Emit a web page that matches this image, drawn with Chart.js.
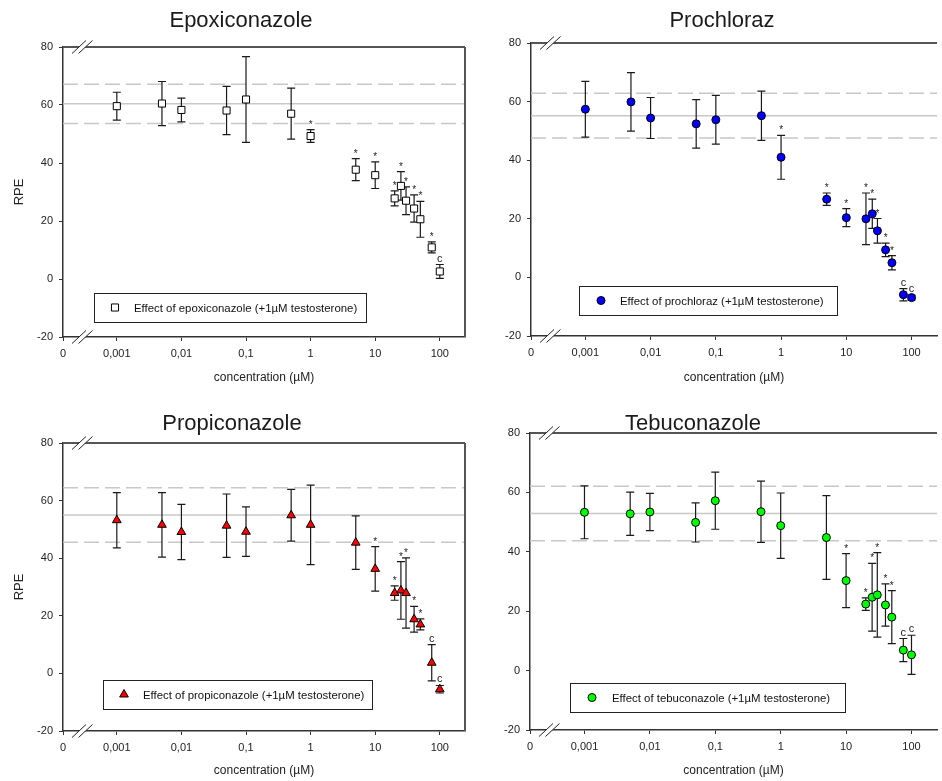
<!DOCTYPE html>
<html>
<head>
<meta charset="utf-8">
<script src="https://cdn.jsdelivr.net/npm/chart.js@4.4.0/dist/chart.umd.min.js"></script>
<style>
  html, body { margin: 0; padding: 0; background: #fff; overflow: hidden; }
  #wrap { position: relative; width: 942px; height: 781px; }
  #wrap canvas { position: absolute; }
</style>
</head>
<body>
<div id="wrap">
  <canvas id="c1" width="471" height="390" style="left:0;top:0"></canvas>
  <canvas id="c2" width="471" height="390" style="left:471px;top:0"></canvas>
  <canvas id="c3" width="471" height="391" style="left:0;top:390px"></canvas>
  <canvas id="c4" width="471" height="391" style="left:471px;top:390px"></canvas>
</div>
<script>
// concentrations (µM), same for every compound
const concentrations = [0.001, 0.005, 0.01, 0.05, 0.1, 0.5, 1, 5, 10, 20, 25, 30, 40, 50, 75, 100];
const xTickValues = [0.001, 0.01, 0.1, 1, 10, 100];
const xTickLabels = ['0,001', '0,01', '0,1', '1', '10', '100'];
const xMinValue = Math.pow(10, -3.833);   // shown as "0" (axis break)
const xMaxValue = Math.pow(10, 2.39);
const yMin = -20, yMax = 80, yStep = 20;

const compoundNames = ['Epoxiconazole', 'Prochloraz', 'Propiconazole', 'Tebuconazole'];
const legendLabels = [
  'Effect of epoxiconazole (+1µM testosterone)',
  'Effect of prochloraz (+1µM testosterone)',
  'Effect of propiconazole (+1µM testosterone)',
  'Effect of tebuconazole (+1µM testosterone)'
];

const epoxiconazoleMean = [59.6, 60.5, 58.3, 58.1, 61.9, 57.0, 49.3, 37.7, 35.8, 27.8, 32.1, 27.0, 24.3, 20.6, 10.9, 2.6];
const epoxiconazoleSD   = [4.8, 7.6, 4.1, 8.3, 14.8, 8.8, 2.2, 3.8, 4.6, 2.6, 4.9, 4.8, 4.7, 6.2, 1.9, 2.4];
const epoxiconazoleSig  = ['', '', '', '', '', '', '*', '*', '*', '*', '*', '*', '*', '*', '*', 'c'];

const prochlorazMean = [57.4, 59.9, 54.4, 52.4, 53.8, 55.2, 41.0, 26.7, 20.4, 20.0, 21.7, 15.9, 9.4, 5.0, -5.9, -6.9];
const prochlorazSD   = [9.5, 10.0, 7.0, 8.3, 8.3, 8.4, 7.5, 2.1, 3.1, 8.8, 5.0, 4.2, 2.3, 2.4, 2.1, 0.8];
const prochlorazSig  = ['', '', '', '', '', '', '*', '*', '*', '*', '*', '*', '*', '*', 'c', 'c'];

const propiconazoleMean = [53.2, 51.6, 49.1, 51.3, 49.2, 54.9, 51.6, 45.4, 36.3, 27.9, 28.8, 27.9, 18.8, 17.0, 3.7, -5.5];
const propiconazoleSD   = [9.6, 11.2, 9.6, 11.0, 8.6, 9.0, 13.8, 9.3, 7.7, 2.5, 10.0, 12.2, 4.5, 1.9, 6.3, 1.3];
const propiconazoleSig  = ['', '', '', '', '', '', '', '', '*', '*', '*', '*', '*', '*', 'c', 'c'];

const tebuconazoleMean = [53.3, 52.8, 53.4, 49.9, 57.2, 53.5, 48.8, 44.8, 30.3, 22.4, 24.7, 25.5, 22.1, 18.0, 6.9, 5.3];
const tebuconazoleSD   = [8.9, 7.3, 6.3, 6.6, 9.6, 10.3, 11.0, 14.1, 9.1, 2.1, 11.4, 14.2, 7.1, 8.9, 3.9, 6.6];
const tebuconazoleSig  = ['', '', '', '', '', '', '', '', '*', '*', '*', '*', '*', '*', 'c', 'c'];

// control (testosterone alone): mean and SD band
const controlMean = [60.4, 55.2, 55.0, 52.9];
const controlSD   = [6.75, 7.65, 9.5, 9.2];

const means = [epoxiconazoleMean, prochlorazMean, propiconazoleMean, tebuconazoleMean];
const sds = [epoxiconazoleSD, prochlorazSD, propiconazoleSD, tebuconazoleSD];
const sigs = [epoxiconazoleSig, prochlorazSig, propiconazoleSig, tebuconazoleSig];

const markers = [
  { style: 'rect', radius: 5, fill: '#ffffff' },
  { style: 'circle', radius: 4, fill: '#0000ff' },
  { style: 'triangle', radius: 5, fill: '#ff0000' },
  { style: 'circle', radius: 4, fill: '#00ff00' }
];

// panel geometry (canvas-local pixels)
const panels = [
  { id: 'c1', w: 471, h: 390, area: [63, 47, 466, 337], title: [241, 27], legend: [94, 293, 366, 322, 115, 134], rpe: true, right: true, xtitlePad: 4.8 },
  { id: 'c2', w: 471, h: 390, area: [60, 43, 471, 336], title: [251, 27], legend: [108, 286, 366, 315, 130, 149], rpe: false, right: false, xtitlePad: 4.8 },
  { id: 'c3', w: 471, h: 391, area: [63, 53, 465, 341], title: [232, 40], legend: [103, 290, 372, 319, 124, 143], rpe: true, right: true, xtitlePad: 2.8 },
  { id: 'c4', w: 471, h: 391, area: [59, 43, 471, 340], title: [222, 40], legend: [99, 293, 374, 322, 121, 141], rpe: false, right: false, xtitlePad: 2.8 }
];

Chart.defaults.font.family = "'Liberation Sans', Arial, sans-serif";
Chart.defaults.color = '#222';

function drawMarker(ctx, m, x, y) {
  ctx.save();
  ctx.fillStyle = m.fill;
  ctx.strokeStyle = '#000';
  ctx.lineWidth = 1;
  ctx.beginPath();
  if (m.style === 'rect') {
    const s = m.radius * Math.SQRT1_2;
    ctx.rect(x - s, y - s, 2 * s, 2 * s);
  } else if (m.style === 'triangle') {
    const r = m.radius;
    ctx.moveTo(x, y - r);
    ctx.lineTo(x + r * Math.sin(Math.PI * 2 / 3), y - r * Math.cos(Math.PI * 2 / 3));
    ctx.lineTo(x + r * Math.sin(Math.PI * 4 / 3), y - r * Math.cos(Math.PI * 4 / 3));
    ctx.closePath();
  } else {
    ctx.arc(x, y, m.radius, 0, Math.PI * 2);
  }
  ctx.fill();
  ctx.stroke();
  ctx.restore();
}

const errorBars = {
  id: 'errorBars',
  beforeDatasetDraw(chart, args, opts) {
    if (args.index !== 0) return;
    const { ctx, scales: { x, y } } = chart;
    const k = opts.k;
    ctx.save();
    ctx.strokeStyle = '#1a1a1a';
    ctx.lineWidth = 1.2;
    ctx.fillStyle = '#222';
    ctx.textAlign = 'center';
    concentrations.forEach((c, i) => {
      const px = x.getPixelForValue(c);
      const top = y.getPixelForValue(means[k][i] + sds[k][i]);
      const bot = y.getPixelForValue(means[k][i] - sds[k][i]);
      ctx.beginPath();
      ctx.moveTo(px, top); ctx.lineTo(px, bot);
      ctx.moveTo(px - 4, top); ctx.lineTo(px + 4, top);
      ctx.moveTo(px - 4, bot); ctx.lineTo(px + 4, bot);
      ctx.stroke();
      const s = sigs[k][i];
      if (s === '*') {
        ctx.font = "10px 'Liberation Sans', Arial, sans-serif";
        ctx.fillText('*', px, top - 2);
      } else if (s === 'c') {
        ctx.font = "11px 'Liberation Sans', Arial, sans-serif";
        ctx.fillText('c', px, top - 3);
      }
    });
    ctx.restore();
  }
};

const decorations = {
  id: 'decorations',
  afterDraw(chart, args, opts) {
    const { ctx, chartArea: a } = chart;
    const p = opts.panel, k = opts.k;
    ctx.save();
    // frame
    ctx.strokeStyle = '#555';
    ctx.lineWidth = 2;
    ctx.beginPath();
    ctx.moveTo(a.left, a.top); ctx.lineTo(a.right, a.top);
    if (p.right) { ctx.moveTo(a.right, a.top); ctx.lineTo(a.right, a.bottom); }
    ctx.stroke();
    // axis breaks
    [a.top, a.bottom].forEach(yy => {
      const x0 = a.left + 9;
      ctx.fillStyle = '#fff';
      ctx.beginPath();
      ctx.moveTo(x0, yy + 6.5); ctx.lineTo(x0 + 14, yy - 6.5);
      ctx.lineTo(x0 + 20.5, yy - 6.5); ctx.lineTo(x0 + 6.5, yy + 6.5);
      ctx.closePath();
      ctx.fill();
      ctx.strokeStyle = '#222';
      ctx.lineWidth = 1;
      ctx.beginPath();
      ctx.moveTo(x0, yy + 6.5); ctx.lineTo(x0 + 14, yy - 6.5);
      ctx.moveTo(x0 + 6.5, yy + 6.5); ctx.lineTo(x0 + 20.5, yy - 6.5);
      ctx.stroke();
    });
    // title
    ctx.fillStyle = '#1a1a1a';
    ctx.font = "22px 'Liberation Sans', Arial, sans-serif";
    ctx.textAlign = 'center';
    ctx.textBaseline = 'alphabetic';
    ctx.fillText(compoundNames[k], p.title[0], p.title[1]);
    // legend box
    const L = p.legend;
    ctx.fillStyle = '#fff';
    ctx.fillRect(L[0], L[1], L[2] - L[0], L[3] - L[1]);
    ctx.strokeStyle = '#222';
    ctx.lineWidth = 1;
    ctx.strokeRect(L[0] + 0.5, L[1] + 0.5, L[2] - L[0], L[3] - L[1]);
    const cy = (L[1] + L[3]) / 2;
    drawMarker(ctx, markers[k], L[4], cy);
    ctx.fillStyle = '#111';
    ctx.font = "11.4px 'Liberation Sans', Arial, sans-serif";
    ctx.textAlign = 'left';
    ctx.textBaseline = 'middle';
    ctx.fillText(legendLabels[k], L[5], cy + 1);
    ctx.restore();
  }
};

panels.forEach((p, k) => {
  const m = markers[k];
  const band = (v, dashed) => ({
    data: [{ x: xMinValue, y: v }, { x: xMaxValue, y: v }],
    showLine: true,
    borderColor: '#c8c8c8',
    borderWidth: 1.5,
    borderDash: dashed ? [15, 6] : [],
    pointRadius: 0
  });
  new Chart(document.getElementById(p.id), {
    type: 'scatter',
    data: {
      datasets: [
        {
          data: concentrations.map((c, i) => ({ x: c, y: means[k][i] })),
          pointStyle: m.style,
          pointRadius: m.radius,
          backgroundColor: m.fill,
          borderColor: '#000',
          borderWidth: 1
        },
        band(controlMean[k], false),
        band(controlMean[k] + controlSD[k], true),
        band(controlMean[k] - controlSD[k], true)
      ]
    },
    options: {
      responsive: false,
      animation: false,
      events: [],
      layout: { padding: { left: 0, top: p.area[1], right: p.w - p.area[2], bottom: 0 } },
      plugins: {
        legend: { display: false },
        tooltip: { enabled: false },
        errorBars: { k },
        decorations: { panel: p, k }
      },
      scales: {
        x: {
          type: 'logarithmic',
          min: xMinValue,
          max: xMaxValue,
          afterBuildTicks: s => { s.ticks = [xMinValue].concat(xTickValues).map(v => ({ value: v })); },
          afterFit: s => { s.height = p.h - p.area[3]; },
          ticks: {
            autoSkip: false, maxRotation: 0, minRotation: 0, padding: 6,
            font: { size: 11 }, color: '#222',
            callback: (v, i) => (i === 0 ? '0' : xTickLabels[i - 1])
          },
          grid: { drawOnChartArea: false, drawTicks: true, tickLength: 4, color: '#333' },
          border: { color: '#333', width: 1.5 },
          title: { display: true, text: 'concentration (µM)', font: { size: 12 }, color: '#222', padding: { top: 0, bottom: p.xtitlePad } }
        },
        y: {
          min: yMin,
          max: yMax,
          afterFit: s => { s.width = p.area[0]; },
          ticks: { stepSize: yStep, padding: 6, font: { size: 11 }, color: '#222' },
          grid: { drawOnChartArea: false, drawTicks: true, tickLength: 4, color: '#333' },
          border: { color: '#333', width: 1.5 },
          title: { display: p.rpe, text: 'RPE', font: { size: 13 }, color: '#222', padding: { top: 12, bottom: 0 } }
        }
      }
    },
    plugins: [errorBars, decorations]
  });
});
</script>
</body>
</html>
